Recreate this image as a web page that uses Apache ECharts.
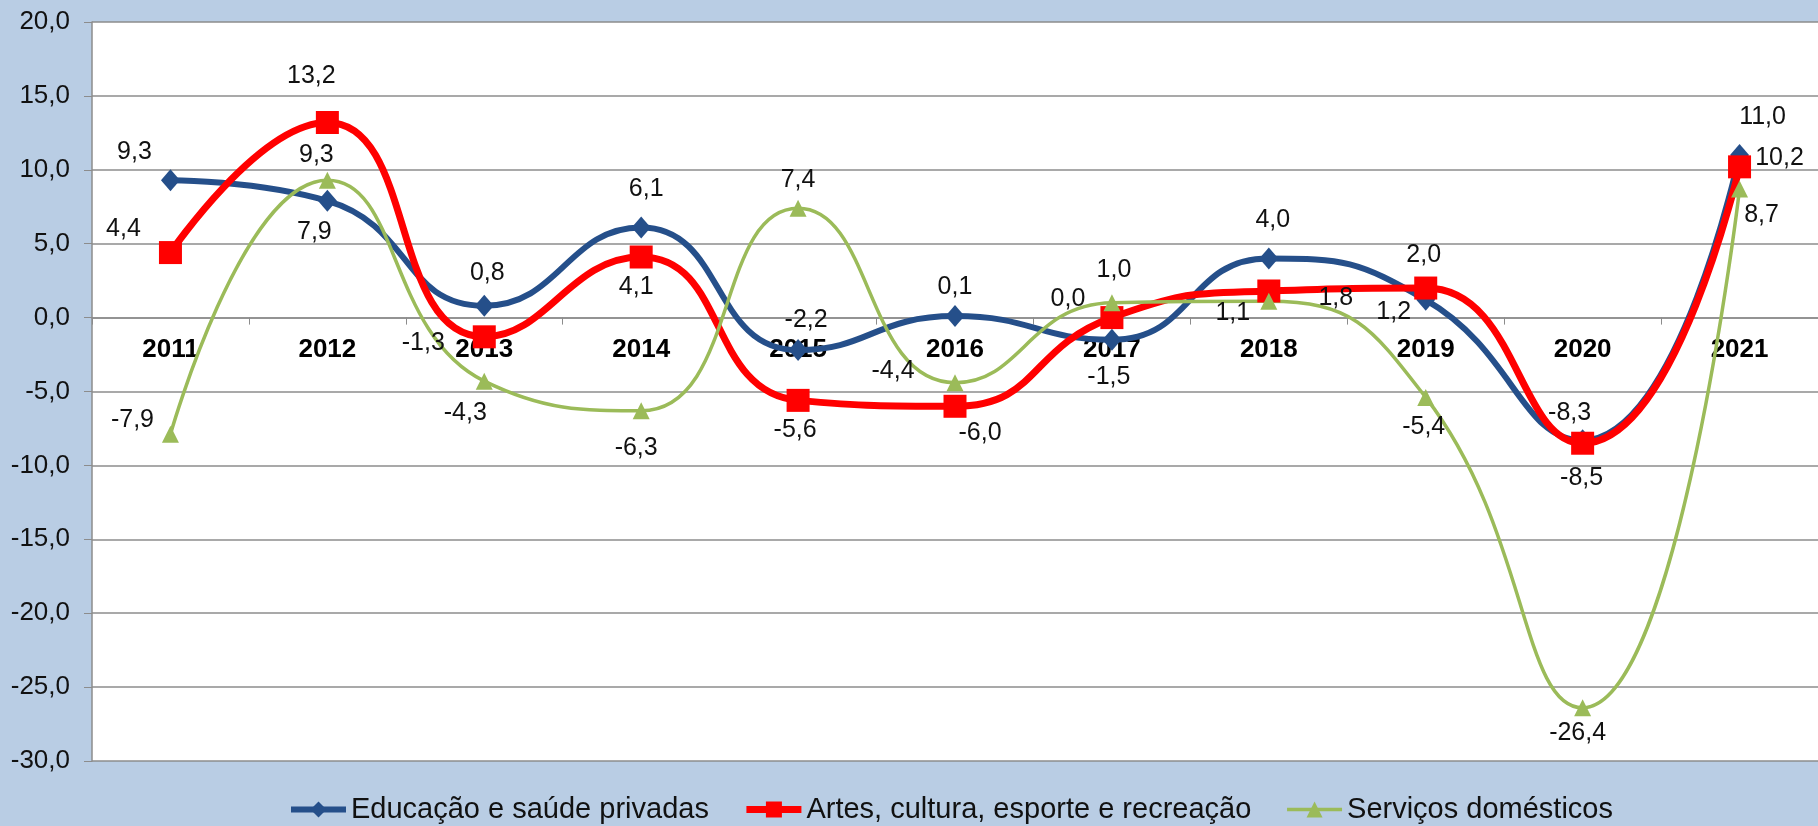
<!DOCTYPE html>
<html>
<head>
<meta charset="utf-8">
<script src="https://cdn.jsdelivr.net/npm/echarts@6/dist/echarts.min.js"></script>
<style>
  html, body { margin: 0; padding: 0; background: #b9cde4; }
  #chart { width: 1818px; height: 826px; }
</style>
</head>
<body>
<div id="chart"></div>
<script>
var years = ['2011', '2012', '2013', '2014', '2015', '2016', '2017', '2018', '2019', '2020', '2021'];
var yTicks = { min: -30, max: 20, step: 5 };

var educacao = [9.3, 7.9, 0.8, 6.1, -2.2, 0.1, -1.5, 4.0, 1.2, -8.3, 11.0];
var artes = [4.4, 13.2, -1.3, 4.1, -5.6, -6.0, 0.0, 1.8, 2.0, -8.5, 10.2];
var domesticos = [-7.9, 9.3, -4.3, -6.3, 7.4, -4.4, 1.0, 1.1, -5.4, -26.4, 8.7];

// onde fica cada rótulo em relação ao marcador (px)
var offEdu = [[-36, -28], [-13, 31], [3, -33], [5, -38], [8, -30], [0, -29], [-3, 37], [4, -38], [-32, 12], [-13, -27], [23, -38]];
var offArt = [[-47, -23], [-16, -46], [-61, 6], [-5, 30], [-3, 30], [25, 27], [-44, -18], [67, 7], [-2, -33], [-1, 35], [40, -9]];
var offDom = [[-38, -14], [-11, -25], [-19, 32], [-5, 37], [0, -28], [-62, -12], [2, -33], [-36, 12], [-2, 30], [-5, 25], [22, 26]];

var FONT = 'Liberation Sans, Arial, sans-serif';

var fmt = function (v) {
    return Number(v).toFixed(1).replace('.', ',');
};

function withLabels(values, offsets) {
    return values.map(function (v, i) {
        return { value: v, label: { offset: offsets[i] } };
    });
}

var labelBase = {
    show: true,
    position: 'inside',
    color: '#111',
    fontSize: 25,
    fontFamily: FONT,
    textBorderWidth: 0,
    formatter: function (p) { return fmt(p.value); }
};

var chart = echarts.init(document.getElementById('chart'));

var option = {
    backgroundColor: '#b9cde4',
    animation: false,
    textStyle: { fontFamily: FONT },
    grid: {
        left: 92, right: 0, top: 22, bottom: 65,
        show: true, backgroundColor: '#ffffff', borderWidth: 0
    },
    legend: {
        top: 790,
        left: 283,
        itemWidth: 55,
        itemHeight: 20,
        itemGap: 34,
        textStyle: { fontSize: 29, color: '#111' },
        data: [
            { name: 'Educação e saúde privadas', lineStyle: { width: 6 } },
            { name: 'Artes, cultura, esporte e recreação', lineStyle: { width: 7 } },
            { name: 'Serviços domésticos', lineStyle: { width: 3.5 } }
        ]
    },
    xAxis: {
        type: 'category',
        data: years,
        axisLine: { onZero: true, onZeroAxisIndex: 0, lineStyle: { color: '#8c8c8c', width: 1.5 } },
        axisTick: { show: true, length: 7, lineStyle: { color: '#8c8c8c' } },
        axisLabel: { show: false },
        splitLine: { show: false }
    },
    yAxis: {
        type: 'value',
        min: yTicks.min,
        max: yTicks.max,
        interval: yTicks.step,
        axisLine: { show: true, onZero: false, lineStyle: { color: '#8c8c8c', width: 1.5 } },
        axisTick: { show: true, length: 8, lineStyle: { color: '#8c8c8c' } },
        axisLabel: { color: '#111', fontSize: 26, margin: 22, formatter: fmt },
        splitLine: { lineStyle: { color: '#8c8c8c', width: 1.5 } }
    },
    series: [
        {
            // rótulos dos anos sobre a linha do zero
            name: 'anos',
            type: 'scatter',
            z: 1,
            symbolSize: 0,
            silent: true,
            itemStyle: { opacity: 1 },
            label: {
                show: true,
                position: 'bottom',
                distance: 19,
                color: '#000',
                opacity: 1,
                fontSize: 26,
                fontWeight: 'bold',
                fontFamily: FONT,
                formatter: function (p) { return p.value[0]; }
            },
            data: years.map(function (y) { return [y, 0]; })
        },
        {
            name: 'Educação e saúde privadas',
            type: 'line',
            smooth: 0.5,
            symbol: 'diamond',
            symbolSize: [19, 22],
            itemStyle: { color: '#254f8a' },
            lineStyle: { color: '#254f8a', width: 6 },
            label: labelBase,
            data: withLabels(educacao, offEdu)
        },
        {
            name: 'Artes, cultura, esporte e recreação',
            type: 'line',
            smooth: 0.5,
            symbol: 'rect',
            symbolSize: 23,
            itemStyle: { color: '#ff0000' },
            lineStyle: { color: '#ff0000', width: 7 },
            label: labelBase,
            data: withLabels(artes, offArt)
        },
        {
            name: 'Serviços domésticos',
            type: 'line',
            smooth: 0.5,
            symbol: 'triangle',
            symbolSize: 17,
            itemStyle: { color: '#9bbb59' },
            lineStyle: { color: '#9bbb59', width: 3.5 },
            label: labelBase,
            data: withLabels(domesticos, offDom)
        }
    ]
};

chart.setOption(option);
</script>
</body>
</html>
